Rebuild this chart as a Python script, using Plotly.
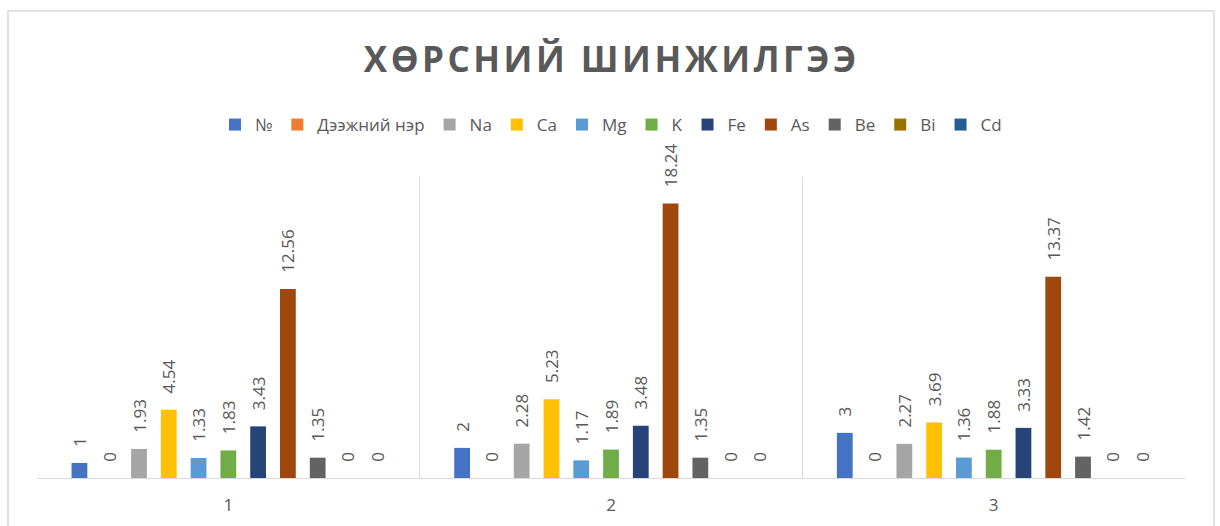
import plotly.graph_objects as go

categories = ["1", "2", "3"]
series_names = ["№", "Дээжний нэр", "Na", "Ca", "Mg", "K", "Fe", "As", "Be", "Bi", "Cd"]
series_colors = ["#4472C4", "#ED7D31", "#A5A5A5", "#FFC000", "#5B9BD5", "#70AD47",
                 "#264478", "#9E480E", "#636363", "#997300", "#255E91"]
v_no = [1, 2, 3]
v_name = [0, 0, 0]
v_na = [1.93, 2.28, 2.27]
v_ca = [4.54, 5.23, 3.69]
v_mg = [1.33, 1.17, 1.36]
v_k = [1.83, 1.89, 1.88]
v_fe = [3.43, 3.48, 3.33]
v_as = [12.56, 18.24, 13.37]
v_be = [1.35, 1.35, 1.42]
v_bi = [0, 0, 0]
v_cd = [0, 0, 0]
series_values = [v_no, v_name, v_na, v_ca, v_mg, v_k, v_fe, v_as, v_be, v_bi, v_cd]

title_text = "ХӨРСНИЙ ШИНЖИЛГЭЭ"
FONT = "Open Sans, Noto Sans, sans-serif"
GRAY = "#595959"

fig = go.Figure()
for name, color, vals in zip(series_names, series_colors, series_values):
    fig.add_trace(go.Bar(
        x=categories, y=vals, name=name,
        marker=dict(color=color, line=dict(width=0)),
        text=[f"{v:g}" for v in vals],
        texttemplate="\u00a0\u00a0\u00a0%{text}",
        textposition="outside", textangle=-90, constraintext="none",
        textfont=dict(family=FONT, size=17, color=GRAY),
        cliponaxis=False,
    ))

spaced_title = "\u200a".join(title_text)

W, H = 1220, 526
L, R, T, B = 37, 35, 177, 48
pw, ph = W - L - R, H - T - B

def px_x(p):
    return (p - L) / pw

def px_y(p):
    return (H - B - p) / ph

fig.update_layout(
    width=W, height=H,
    margin=dict(l=L, r=R, t=T, b=B, autoexpand=False),
    paper_bgcolor="white", plot_bgcolor="white",
    barmode="group", bargap=0.144, bargroupgap=0.47,
    font=dict(family=FONT, color=GRAY),
    title=dict(text=f"<b>{spaced_title}</b>", x=0.5, xanchor="center",
               y=1 - 60 / H, yanchor="middle",
               font=dict(family=FONT, size=35, color=GRAY)),
    legend=dict(orientation="h", x=0.5, xanchor="center",
                y=px_y(125), yanchor="middle",
                font=dict(family=FONT, size=17, color=GRAY),
                itemwidth=30, bgcolor="rgba(0,0,0,0)", traceorder="normal"),
    showlegend=True,
    xaxis=dict(type="category", tickson="boundaries", showgrid=True,
               gridcolor="#D9D9D9", gridwidth=1, showline=True,
               linecolor="#D9D9D9", linewidth=1, ticks="",
               ticklabelstandoff=12,
               tickfont=dict(family=FONT, size=17, color=GRAY),
               zeroline=False, fixedrange=True),
    yaxis=dict(range=[0, 20], visible=False, showgrid=False, zeroline=False),
    shapes=[dict(type="rect", xref="paper", yref="paper",
                 x0=px_x(8), x1=px_x(1214), y0=px_y(540), y1=px_y(11),
                 line=dict(color="#D9D9D9", width=1.5), fillcolor="rgba(0,0,0,0)",
                 layer="below")],
)

fig.write_html("out.html", config={"displayModeBar": False},
               post_script="document.body.style.margin='0';document.body.style.overflow='hidden';")
